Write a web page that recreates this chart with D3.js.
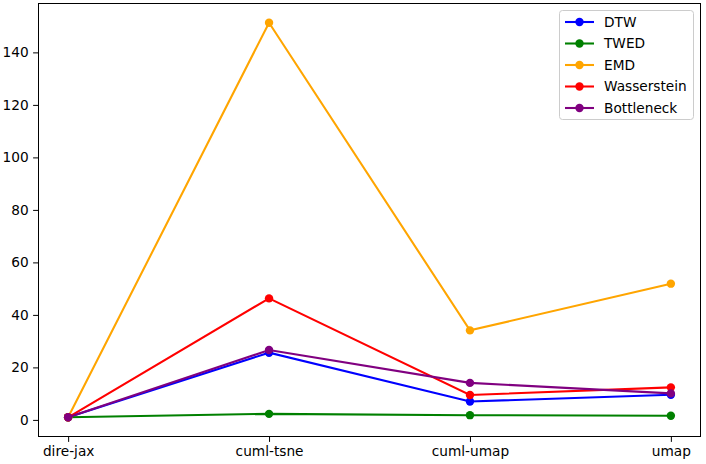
<!DOCTYPE html>
<html><head><meta charset="utf-8">
<script src="https://cdn.jsdelivr.net/npm/d3@7"></script>
<style>body{margin:0;background:#fff}svg{display:block}text{font-family:"DejaVu Sans",sans-serif}</style>
</head><body><svg id="c" width="706" height="464"></svg>
<script>
const categories = ["dire-jax","cuml-tsne","cuml-umap","umap"];
const seriesNames = ["DTW","TWED","EMD","Wasserstein","Bottleneck"];
const seriesColors = ["blue","green","orange","red","purple"];
const DTW = [1, 25.6, 7.0, 9.6];
const TWED = [1, 2.3, 1.8, 1.6];
const EMD = [1, 151.3, 34.1, 51.9];
const Wasserstein = [1, 46.3, 9.5, 12.4];
const Bottleneck = [1, 26.6, 14.1, 10.1];
const yTicks = [0,20,40,60,80,100,120,140];
const seriesValues = [DTW, TWED, EMD, Wasserstein, Bottleneck];

const W=706,H=464,m={l:38,t:3,r:5,b:27};
const svg=d3.select("#c");
const x=d3.scaleLinear().domain([-0.15,3.15]).range([m.l,W-m.r]);
const allV=seriesValues.flat();
const mn=d3.min(allV),mx=d3.max(allV),pad=(mx-mn)*0.05;
const y=d3.scaleLinear().domain([mn-pad,mx+pad]).range([H-m.b,m.t]);

const fs="13.7px";
const xa=svg.append("g").attr("transform",`translate(0,${H-m.b})`)
  .call(d3.axisBottom(x).tickValues([0,1,2,3]).tickFormat(i=>categories[i]).tickSize(4.9).tickPadding(4.5));
const ya=svg.append("g").attr("transform",`translate(${m.l},0)`)
  .call(d3.axisLeft(y).tickValues(yTicks).tickSize(4.9).tickPadding(4.5));
[xa,ya].forEach(a=>{a.selectAll("text").attr("font-family","DejaVu Sans").style("font-size",fs).attr("fill","#000");
  a.selectAll("line").attr("stroke","#000").attr("stroke-width",1);a.select(".domain").remove();});

const line=d3.line().x((d,i)=>x(i)).y(d=>y(d));
seriesValues.forEach((vals,si)=>{
  const g=svg.append("g");
  g.append("path").datum(vals).attr("d",line).attr("fill","none").attr("stroke",seriesColors[si]).attr("stroke-width",2.08);
  g.selectAll("circle").data(vals).join("circle").attr("cx",(d,i)=>x(i)).attr("cy",d=>y(d)).attr("r",4.2).attr("fill",seriesColors[si]);
});

svg.append("rect").attr("x",m.l+0.5).attr("y",m.t+0.5).attr("width",W-m.l-m.r-1).attr("height",H-m.t-m.b-1)
  .attr("fill","none").attr("stroke","#000").attr("stroke-width",1);

const lg=svg.append("g");
lg.append("rect").attr("x",559.5).attr("y",10.5).attr("width",134).attr("height",109).attr("rx",3)
  .attr("fill","#fff").attr("fill-opacity",0.8).attr("stroke","#ccc");
seriesNames.forEach((n,i)=>{
  const yy=22+i*21.5;
  lg.append("line").attr("x1",565).attr("x2",594).attr("y1",yy).attr("y2",yy).attr("stroke",seriesColors[i]).attr("stroke-width",2.08);
  lg.append("circle").attr("cx",579.5).attr("cy",yy).attr("r",4.2).attr("fill",seriesColors[i]);
  lg.append("text").attr("x",604).attr("y",yy).attr("dy","0.36em").style("font-size",fs).text(n);
});
</script></body></html>
